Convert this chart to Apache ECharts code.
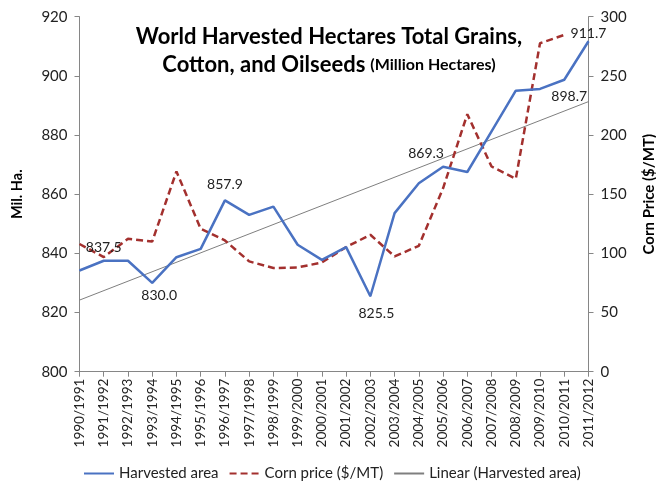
<!DOCTYPE html>
<html><head><meta charset="utf-8">
<script src="https://cdn.jsdelivr.net/npm/echarts@6/dist/echarts.min.js"></script>
<style>html,body{margin:0;padding:0;background:#fff}#c{width:656px;height:486px}</style>
</head><body><div id="c"></div>
<script>
const categories = ['1990/1991','1991/1992','1992/1993','1993/1994','1994/1995','1995/1996','1996/1997','1997/1998','1998/1999','1999/2000','2000/2001','2001/2002','2002/2003','2003/2004','2004/2005','2005/2006','2006/2007','2007/2008','2008/2009','2009/2010','2010/2011','2011/2012'];
const harvestedArea = [834.2, 837.5, 837.5, 830.0, 838.7, 841.5, 857.9, 853.0, 855.8, 842.9, 837.8, 842.1, 825.5, 853.6, 863.7, 869.3, 867.5, 881.2, 895.0, 895.6, 898.7, 911.7];
const cornPrice = [107.9, 96.9, 112.3, 110.0, 169.2, 120.8, 110.9, 93.2, 87.6, 88.1, 92.3, 105.3, 115.7, 97.4, 106.4, 155.0, 217.6, 173.4, 163.0, 277.6, 284.6, null];
const trendStart = 824.2;   // linear trend value at first category
const trendEnd = 891.3;     // linear trend value at last category
const labelledIdx = ['1991/1992','1993/1994','1996/1997','2002/2003','2005/2006','2010/2011','2011/2012'];
const seriesNames = ['Harvested area', 'Corn price ($/MT)', 'Linear (Harvested area)'];

const FONT = 'Lato';
const BLUE = '#4A72C2', RED = '#A3302E', GREY = '#7f7f7f';
const labelStyle = {
  '1991/1992': {position:'top', distance:6},
  '1993/1994': {position:'bottom', distance:5, offset:[7,0]},
  '1996/1997': {position:'top', distance:8},
  '2002/2003': {position:'bottom', distance:10, offset:[6,0]},
  '2005/2006': {position:'top', distance:6, offset:[-17,0]},
  '2010/2011': {position:'bottom', distance:9, offset:[5,0]},
  '2011/2012': {position:'top', distance:0}
};
const areaData = harvestedArea.map((v,i)=>{
  const c = categories[i];
  if (labelledIdx.indexOf(c) >= 0) {
    return {value:v, label:Object.assign({show:true, formatter:p=>p.value.toFixed(1), color:'#222', fontSize:14, fontFamily:FONT}, labelStyle[c])};
  }
  return v;
});
const trendData = categories.map((c,i)=> i===0 ? trendStart : (i===categories.length-1 ? trendEnd : null));

const chart = echarts.init(document.getElementById('c'), null, {renderer:'canvas'});
chart.setOption({
  animation:false,
  backgroundColor:'#fff',
  title:{
    left:324, top:18, textAlign:'center',
    text:'{a|World Harvested Hectares Total Grains,}\n{a|Cotton, and Oilseeds} {b|(Million Hectares)}',
    textStyle:{
      rich:{
        a:{fontFamily:FONT, fontWeight:'bold', fontSize:22, color:'#000', lineHeight:28},
        b:{fontFamily:FONT, fontWeight:'bold', fontSize:16, color:'#000', lineHeight:28}
      }
    }
  },
  legend:{
    left:78, top:461, itemWidth:30, itemHeight:10, itemGap:10,
    itemStyle:{opacity:0},
    textStyle:{fontFamily:FONT, fontSize:15, color:'#222'},
    data:seriesNames
  },
  grid:{left:79.5, right:67.5, top:16.7, bottom:114.3, containLabel:false, outerBoundsMode:'none'},
  xAxis:{
    type:'category', data:categories, boundaryGap:false,
    axisLine:{lineStyle:{color:'#868686', width:1}},
    axisTick:{show:true, alignWithLabel:true, length:5, lineStyle:{color:'#868686'}},
    axisLabel:{rotate:90, interval:0, fontFamily:FONT, fontSize:13.5, color:'#222', margin:7}
  },
  yAxis:[{
    type:'value', min:800, max:920, interval:20, position:'left',
    name:'Mil. Ha.', nameLocation:'middle', nameGap:55, nameRotate:90,
    nameTextStyle:{fontFamily:FONT, fontWeight:'bold', fontSize:14.5, color:'#000'},
    splitLine:{show:false},
    axisLine:{show:true, lineStyle:{color:'#868686'}},
    axisTick:{show:true, length:5, lineStyle:{color:'#868686'}},
    axisLabel:{fontFamily:FONT, fontSize:15, color:'#222', margin:12}
  },{
    type:'value', min:0, max:300, interval:50, position:'right',
    name:'Corn Price ($/MT)', nameLocation:'middle', nameGap:53, nameRotate:90,
    nameTextStyle:{fontFamily:FONT, fontWeight:'bold', fontSize:15, color:'#000'},
    splitLine:{show:false},
    axisLine:{show:true, lineStyle:{color:'#868686'}},
    axisTick:{show:true, length:5, lineStyle:{color:'#868686'}},
    axisLabel:{fontFamily:FONT, fontSize:15, color:'#222', margin:12}
  }],
  series:[{
    name:seriesNames[0], type:'line', yAxisIndex:0, data:areaData,
    showSymbol:true, symbol:'circle', symbolSize:1, z:3,
    lineStyle:{color:BLUE, width:2.5},
    itemStyle:{color:BLUE}
  },{
    name:seriesNames[1], type:'line', yAxisIndex:1, data:cornPrice,
    showSymbol:false, symbol:'none', z:2,
    lineStyle:{color:RED, width:2.5, type:[7,4]},
    itemStyle:{color:RED}
  },{
    name:seriesNames[2], type:'line', yAxisIndex:0, data:trendData, connectNulls:true,
    showSymbol:false, symbol:'none', z:1,
    lineStyle:{color:GREY, width:1},
    itemStyle:{color:GREY}
  }]
});
</script></body></html>
